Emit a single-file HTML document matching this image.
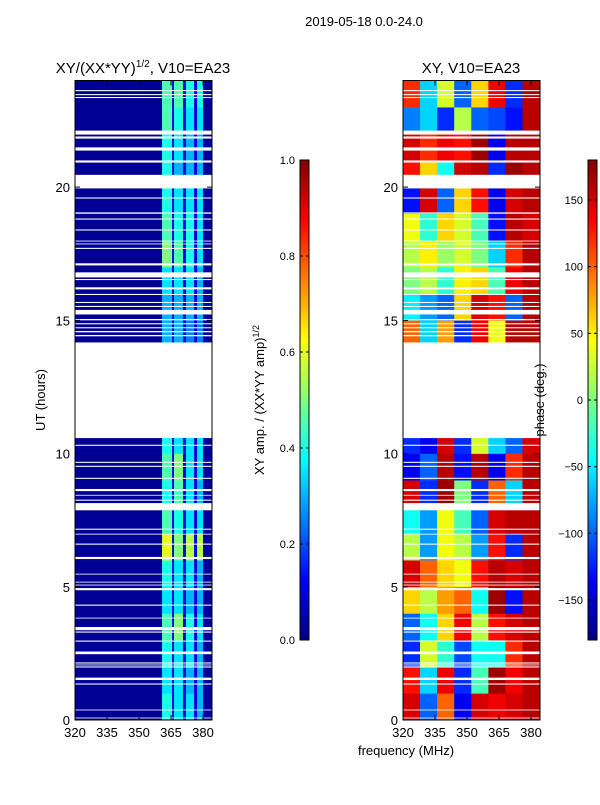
<!DOCTYPE html>
<html><head><meta charset="utf-8">
<style>
html,body{margin:0;padding:0;background:#fff;}
svg text{font-family:"Liberation Sans",sans-serif;fill:#000;}
</style></head>
<body>
<svg id="fig" width="600" height="800" viewBox="0 0 600 800" xmlns="http://www.w3.org/2000/svg">
<text x="364" y="26" font-size="13" text-anchor="middle">2019-05-18 0.0-24.0</text>
<text x="143" y="73" font-size="15" text-anchor="middle">XY/(XX*YY)<tspan font-size="10" dy="-6">1/2</tspan><tspan dy="6">, V10=EA23</tspan></text>
<text x="471" y="73" font-size="15" text-anchor="middle">XY, V10=EA23</text>
<text transform="translate(45,400) rotate(-90)" font-size="13" text-anchor="middle">UT (hours)</text>
<text transform="translate(264,400) rotate(-90)" font-size="13" text-anchor="middle">XY amp. / (XX*YY amp)<tspan font-size="9" dy="-5">1/2</tspan></text>
<text x="406" y="755" font-size="13" text-anchor="middle">frequency (MHz)</text>
<g id="left"></g><g id="right"></g><g id="cb1"></g><g id="cb2"></g>
<text transform="translate(544,400) rotate(-90)" font-size="13" text-anchor="middle">phase (deg.)</text>
</svg>
<script>
// ---- data ----
const hours = [0,1,2,3,4,5,6,7,8,9,10,11,12,13,14,15,16,17,18,19,20,21,22,23];
const ampBandEdges = [320,360.8,365.5,366.4,370.6,372,375.8,377.2,380,384.2];
const ampBaseline = [0.02,null,0.1,null,0.1,null,0.1,null,0.03];
const ampBright = [
 [0.4,0.35,0.35,0.3],[0.35,0.35,0.3,0.3],[0.4,0.35,0.35,0.3],[0.45,0.5,0.4,0.35],
 [0.35,0.35,0.3,0.3],[0.4,0.35,0.35,0.3],[0.6,0.5,0.55,0.55],[0.45,0.4,0.35,0.35],
 [0.4,0.45,0.35,0.3],[0.45,0.5,0.35,0.35],[0.4,0.35,0.35,0.35],null,null,null,
 [0.3,0.3,0.25,0.25],[0.3,0.3,0.3,0.3],[0.35,0.35,0.35,0.3],[0.5,0.45,0.4,0.35],
 [0.45,0.4,0.4,0.35],[0.4,0.35,0.35,0.35],[0.4,0.3,0.3,0.3],[0.4,0.35,0.3,0.3],
 [0.45,0.4,0.35,0.35],[0.45,0.45,0.4,0.4]];
const phaseBandEdges = [320,328,336,344,352,360,368,376,384.2];
const phase = [
 [150,-100,100,-140,150,140,150,160],[130,-60,140,-120,-20,170,140,160],
 [-120,30,-30,-110,-40,-40,120,160],[-100,-40,60,140,20,130,150,160],
 [60,20,80,100,-40,170,-130,160],[150,100,60,40,130,160,150,160],
 [20,-80,40,20,-80,130,-120,160],[-40,-80,40,-20,-100,150,160,160],
 [150,-120,170,0,-120,100,-60,160],[-140,-100,160,-130,160,-140,120,160],
 [-120,-140,150,-120,30,-60,-100,150],null,null,null,
 [100,-60,80,-120,140,40,160,160],[-50,-80,-100,60,150,130,-100,160],
 [0,20,-30,50,60,-20,140,160],[20,50,10,30,0,-60,120,160],
 [40,-30,60,30,-20,-130,160,150],[-130,150,-100,60,130,-140,150,160],
 [130,60,-40,150,160,-120,170,160],[150,120,140,130,170,-140,160,160],
 [-90,-60,-120,20,-100,-110,-130,160],[120,-60,30,-100,60,140,-120,160]];
const gapStart = [23.60,23.45,23.34,21.97,21.82,21.37,20.92,19.95,19.57,19.0,18.78,18.37,17.96,17.85,17.68,17.06,16.61,16.51,16.16,15.95,15.65,15.50,15.22,15.0,14.85,14.7,14.55,14.4,10.58,10.29,9.65,9.5,9.05,8.59,8.42,8.23,7.87,7.14,6.96,6.58,6.04,5.46,5.16,5.05,4.87,4.29,3.81,3.37,3.28,2.94,2.47,2.12,2.05,1.97,1.5,1.33,0.36,0.06];
const gapEnd   = [23.64,23.49,23.38,22.12,21.90,21.49,21.0,20.46,19.61,19.05,18.82,18.41,17.99,17.88,17.72,17.14,16.80,16.55,16.24,15.99,15.69,15.54,15.39,15.05,14.89,14.74,14.6,14.45,14.17,10.33,9.69,9.54,9.09,8.67,8.45,8.27,8.14,7.18,6.99,6.62,6.12,5.49,5.19,5.08,4.95,4.33,3.84,3.49,3.32,2.98,2.57,2.16,2.08,2.01,1.59,1.37,0.39,0.09];
const yTicks = [0,5,10,15,20];
const xTicks = [320,335,350,365,380];
const ampTicks = [0.0,0.2,0.4,0.6,0.8,1.0];
const phaseTicks = [-150,-100,-50,0,50,100,150];

// ---- helpers ----
const NS='http://www.w3.org/2000/svg';
function mk(parent,tag,attrs){const e=document.createElementNS(NS,tag);for(const k in attrs)e.setAttribute(k,attrs[k]);parent.appendChild(e);return e;}
function cl(v){return Math.max(0,Math.min(1,v));}
function jet(v){v=cl(v);const r=cl(1.5-Math.abs(4*v-3)),g=cl(1.5-Math.abs(4*v-2)),b=cl(1.5-Math.abs(4*v-1));
 return 'rgb('+Math.round(r*255)+','+Math.round(g*255)+','+Math.round(b*255)+')';}
const PT=80.5, PB=720, XMIN=320, XMAX=384.2;
function yS(h){return PB-(h/24)*(PB-PT);}

function panel(g,left,name,fillFn){
 const W=137;
 const xS=f=>left+(f-XMIN)/(XMAX-XMIN)*W;
 fillFn(xS);
 for(let i=0;i<gapStart.length;i++){
  const r=mk(g,'rect',{x:left,y:yS(gapEnd[i]),width:W,height:yS(gapStart[i])-yS(gapEnd[i]),fill:'#fff'});
  
  
 }
 const fr=mk(g,'rect',{x:left,y:PT,width:W,height:PB-PT,fill:'none',stroke:'#000','stroke-width':1});
 
 
 yTicks.forEach(t=>{
  mk(g,'line',{x1:left,x2:left+5,y1:yS(t),y2:yS(t),stroke:'#000'});
  mk(g,'line',{x1:left+W-5,x2:left+W,y1:yS(t),y2:yS(t),stroke:'#000'});
  const tx=mk(g,'text',{x:left-5,y:yS(t)+5,'font-size':13,'text-anchor':'end'});
  tx.textContent=t;
  
  
 });
 xTicks.forEach(t=>{
  mk(g,'line',{x1:xS(t),x2:xS(t),y1:PB,y2:PB-5,stroke:'#000'});
  mk(g,'line',{x1:xS(t),x2:xS(t),y1:PT,y2:PT+5,stroke:'#000'});
  const tx=mk(g,'text',{x:xS(t),y:PB+17,'font-size':13,'text-anchor':'middle'});
  tx.textContent=t;
  
  
 });
}

panel(document.getElementById('left'),75,'amp-panel',xS=>{
 const g=document.getElementById('left');
 hours.forEach((h,hi)=>{
  const row=ampBright[hi]; if(!row) return;
  let bi=0;
  for(let b=0;b<ampBaseline.length;b++){
   let v=ampBaseline[b]; if(v===null){v=row[bi];bi++;}
   const r=mk(g,'rect',{x:xS(ampBandEdges[b]),y:yS(h+1),width:xS(ampBandEdges[b+1])-xS(ampBandEdges[b])+0.3,height:yS(h)-yS(h+1)+0.3,fill:jet(v)});
   
   
  }
 });
});
panel(document.getElementById('right'),403,'phase-panel',xS=>{
 const g=document.getElementById('right');
 hours.forEach((h,hi)=>{
  const row=phase[hi]; if(!row) return;
  row.forEach((p,b)=>{
   const r=mk(g,'rect',{x:xS(phaseBandEdges[b]),y:yS(h+1),width:xS(phaseBandEdges[b+1])-xS(phaseBandEdges[b])+0.3,height:yS(h)-yS(h+1)+0.3,fill:jet((p+180)/360)});
   
   
  });
 });
});

function colorbar(g,x,name,ticks,vmin,vmax,fmt){
 const T=160,B=640,W=9;
 const gid=name+'-grad';
 const defs=mk(g,'defs',{});
 const lg=mk(defs,'linearGradient',{id:gid,x1:0,y1:1,x2:0,y2:0});
 for(let i=0;i<=8;i++) mk(lg,'stop',{offset:i/8,'stop-color':jet(i/8)});
 const r=mk(g,'rect',{x:x,y:T,width:W,height:B-T,fill:'url(#'+gid+')',stroke:'#000','stroke-width':1});
 
 
 ticks.forEach(t=>{
  const y=B-(t-vmin)/(vmax-vmin)*(B-T);
  mk(g,'line',{x1:x,x2:x+3,y1:y,y2:y,stroke:'#000'});
  mk(g,'line',{x1:x+W-3,x2:x+W,y1:y,y2:y,stroke:'#000'});
  const tx=mk(g,'text',{x:x-5,y:y+4,'font-size':11,'text-anchor':'end'});
  tx.textContent=fmt(t);
  
  
 });
}
colorbar(document.getElementById('cb1'),300,'amp-colorbar',ampTicks,0,1,t=>t.toFixed(1));
colorbar(document.getElementById('cb2'),588,'phase-colorbar',phaseTicks,-180,180,t=>t<0?'\u2212'+(-t):''+t);
</script>
</body></html>
